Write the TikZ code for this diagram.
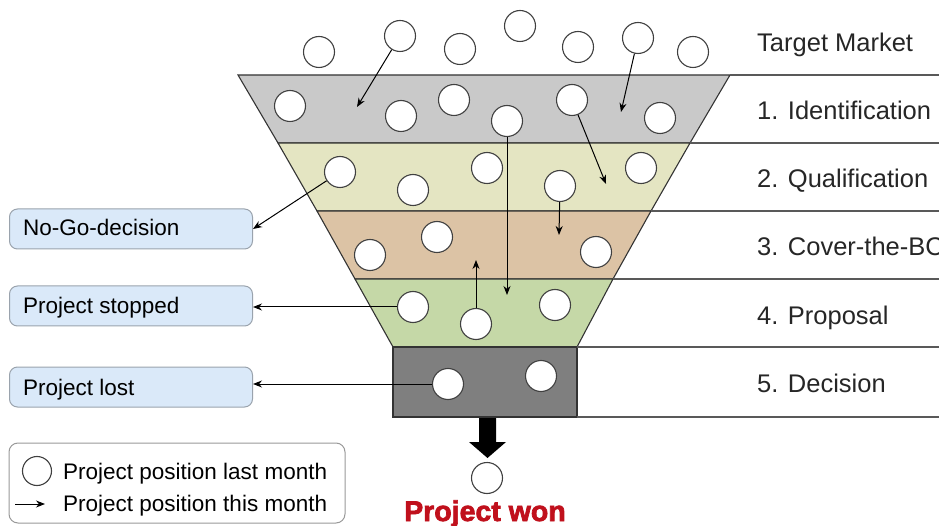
\documentclass[tikz,border=0pt]{standalone}
\usepackage{fontspec}
\setmainfont{Liberation Sans}
\newfontfamily\wonfont[FakeBold=2.5]{Liberation Sans}
\usetikzlibrary{arrows.meta}
\definecolor{layA}{HTML}{C9C9C9}
\definecolor{layB}{HTML}{E4E5C2}
\definecolor{layC}{HTML}{DCC3A5}
\definecolor{layD}{HTML}{C5D8A7}
\definecolor{layE}{HTML}{7F7F7F}
\definecolor{boxfill}{HTML}{DAE9F9}
\definecolor{boxline}{HTML}{9AA3AD}
\definecolor{wonred}{HTML}{C0101C}
\tikzset{
  layer/.style={draw=black!80, line width=1.1pt},
  sepline/.style={draw=black!65, line width=1.1pt},
  pcirc/.style={circle, draw=black!75, fill=white, line width=1.1pt, minimum size=31pt, inner sep=0pt},
  mv/.style={draw=black, line width=1pt, -{Stealth[length=9pt,width=7pt]}},
  stagelbl/.style={anchor=base west, inner sep=0pt, font=\fontsize{25.5pt}{28pt}\selectfont, text=black!85},
  outbox/.style={draw=boxline, fill=boxfill, rounded corners=8pt, line width=1pt, minimum width=243pt, minimum height=40pt, inner sep=0pt},
  boxtxt/.style={anchor=base west, inner sep=0pt, font=\fontsize{22.5pt}{26pt}\selectfont},
}
\begin{document}
\begin{tikzpicture}[x=1pt, y=-1pt]
\useasboundingbox (0,0) rectangle (939,526);
\clip (0,0) rectangle (939,526);
% funnel layers
\path[layer, fill=layA] (238,75) -- (730,75) -- (690,143) -- (278,143) -- cycle;
\path[layer, fill=layB] (278,143) -- (690,143) -- (651,211) -- (317,211) -- cycle;
\path[layer, fill=layC] (317,211) -- (651,211) -- (613,279) -- (355,279) -- cycle;
\path[layer, fill=layD] (355,279) -- (613,279) -- (577,347) -- (393,347) -- cycle;
\path[layer, fill=layE] (393,347) rectangle (577,417);
% separator lines to the right
\draw[sepline] (730,75) -- (939,75);
\draw[sepline] (690,143) -- (939,143);
\draw[sepline] (651,211) -- (939,211);
\draw[sepline] (613,279) -- (939,279);
\draw[sepline] (577,347) -- (939,347);
\draw[sepline] (577,417) -- (939,417);
% stage labels
\node[stagelbl] (lt) at (757,52) {Target Market};
\node[stagelbl] (l1) at (757,120) {1. Identification};
\node[stagelbl] (l2) at (757,188) {2. Qualification};
\node[stagelbl] (l3) at (757,256) {3. Cover-the-BC};
\node[stagelbl] (l4) at (757,324) {4. Proposal};
\node[stagelbl] (l5) at (757,392) {5. Decision};
% target market circles
\node[pcirc] (t1) at (319,52) {};
\node[pcirc] (t2) at (400,36) {};
\node[pcirc] (t3) at (460,49) {};
\node[pcirc] (t4) at (520,26) {};
\node[pcirc] (t5) at (578,47) {};
\node[pcirc] (t6) at (638,38) {};
\node[pcirc] (t7) at (693,52) {};
% identification
\node[pcirc] (a1) at (290,106) {};
\node[pcirc] (a2) at (401,116) {};
\node[pcirc] (a3) at (454,100) {};
\node[pcirc] (a4) at (507,121) {};
\node[pcirc] (a5) at (572,100) {};
\node[pcirc] (a6) at (660,118) {};
% qualification
\node[pcirc] (b1) at (340,172) {};
\node[pcirc] (b2) at (413,190) {};
\node[pcirc] (b3) at (487,168) {};
\node[pcirc] (b4) at (560,186) {};
\node[pcirc] (b5) at (641,168) {};
% cover the BC
\node[pcirc] (c1) at (370,255) {};
\node[pcirc] (c2) at (437,237) {};
\node[pcirc] (c3) at (596,252) {};
% proposal
\node[pcirc] (d1) at (413,307) {};
\node[pcirc] (d2) at (476,324) {};
\node[pcirc] (d3) at (555,305) {};
% decision
\node[pcirc] (e1) at (448,384) {};
\node[pcirc] (e2) at (541,376) {};
% won
\node[pcirc] (w) at (487,478) {};
\fill[black] (479,418) -- (496,418) -- (496,442) -- (506,442) -- (487.5,458) -- (469,442) -- (479,442) -- cycle;
\node[anchor=base west, inner sep=0pt, text=wonred, font=\wonfont\bfseries\fontsize{28.5pt}{32pt}\selectfont] (won) at (404,521) {Project won};
% outcome boxes
\node[outbox] (nogo) at (131,229) {};
\node[boxtxt] at (23,236) {No-Go-decision};
\node[outbox] (stop) at (131,306) {};
\node[boxtxt] at (23,313) {Project stopped};
\node[outbox] (lost) at (131,387) {};
\node[boxtxt] at (23,395) {Project lost};
% movement arrows
\coordinate (m1) at (357,107);
\coordinate (m2) at (621,112);
\coordinate (m3) at (606,184);
\coordinate (m4) at (507,295);
\coordinate (m5) at (559,235);
\coordinate (m6) at (476,260);
\draw[mv] (t2) -- (m1);
\draw[mv] (t6) -- (m2);
\draw[mv] (a5) -- (m3);
\draw[mv] (a4) -- (m4);
\draw[mv] (b4) -- (m5);
\draw[mv] (d2) -- (m6);
\draw[mv] (b1) -- (nogo.east);
\draw[mv] (d1.west) -- (d1.west -| stop.east);
\draw[mv] (e1.west) -- (e1.west -| lost.east);
% legend
\node[draw=black!40, fill=white, rounded corners=9pt, line width=1pt, minimum width=336pt, minimum height=80pt, inner sep=0pt] (leg) at (177,483) {};
\node[circle, draw=black!75, line width=1.1pt, minimum size=29pt, inner sep=0pt] (lc) at (37,471) {};
\node[boxtxt] (lg1) at (63,479) {Project position last month};
\coordinate (la) at (15,504);
\coordinate (lb) at (45,504);
\draw[mv] (la) -- (lb);
\node[boxtxt] (lg2) at (63,511) {Project position this month};
\end{tikzpicture}
\end{document}
